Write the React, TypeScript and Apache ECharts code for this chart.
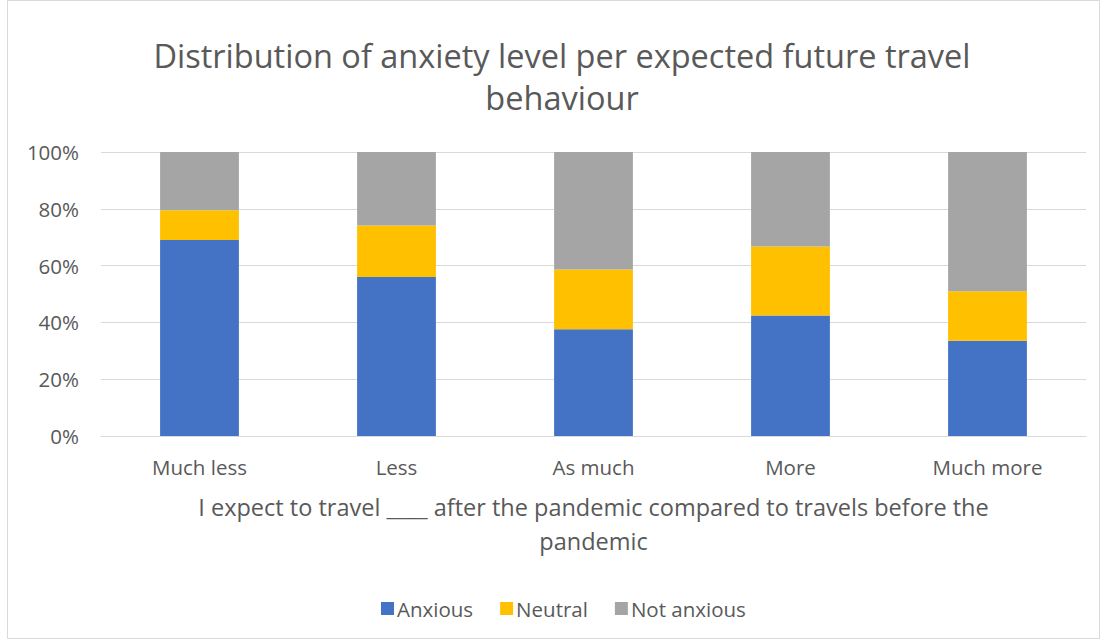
import React, { useEffect, useRef } from "react";
import * as echarts from "echarts";

const categories = ["Much less", "Less", "As much", "More", "Much more"];
const anxious = [69.0, 56.0, 37.6, 42.4, 33.5];
const neutral = [10.5, 18.1, 21.0, 24.3, 17.5];
const notAnxious = [20.5, 25.9, 41.4, 33.3, 49.0];
const seriesNames = ["Anxious", "Neutral", "Not anxious"];
const colors = ["#4472C4", "#FFC000", "#A5A5A5"];
const titleLines = ["Distribution of anxiety level per expected future travel", "behaviour"];
const xAxisTitle = "I expect to travel ____ after the pandemic compared to travels before the\npandemic";

const FONT = "'Open Sans', Lato, sans-serif";
const TXT = "#595959";

export default function App() {
  const ref = useRef<HTMLDivElement>(null);
  useEffect(() => {
    document.body.style.margin = "0";
    const chart = echarts.init(ref.current!, null, { renderer: "svg" });
    const values = [anxious, neutral, notAnxious];
    chart.setOption({
      animation: false,
      backgroundColor: "#ffffff",
      textStyle: { fontFamily: FONT },
      graphic: [
        {
          type: "rect",
          shape: { x: 7.5, y: 0.5, width: 1092, height: 638 },
          style: { fill: "none", stroke: "#d9d9d9", lineWidth: 1 },
          silent: true,
        },
        {
          type: "text",
          x: 562,
          y: 55,
          style: { text: titleLines[0], textAlign: "center", textVerticalAlign: "middle", fill: TXT, font: `32.5px ${FONT}` },
        },
        {
          type: "text",
          x: 562,
          y: 97,
          style: { text: titleLines[1], textAlign: "center", textVerticalAlign: "middle", fill: TXT, font: `32.5px ${FONT}` },
        },
      ],
      legend: {
        data: seriesNames,
        bottom: 20,
        left: 376,
        itemWidth: 13,
        itemHeight: 13,
        itemGap: 27,
        icon: "rect",
        textStyle: { color: TXT, fontSize: 20.5, fontFamily: FONT, padding: [0, 0, 0, -2] },
      },
      grid: { left: 101, right: 21, top: 152, bottom: 208 },
      xAxis: {
        type: "category",
        data: categories,
        axisLine: { lineStyle: { color: "#d9d9d9", width: 1 } },
        axisTick: { show: false },
        axisLabel: { color: TXT, fontSize: 20.5, fontFamily: FONT, margin: 20 },
        name: xAxisTitle,
        nameLocation: "middle",
        nameGap: 54,
        nameTextStyle: { color: TXT, fontSize: 23.5, fontFamily: FONT, lineHeight: 34 },
      },
      yAxis: {
        type: "value",
        min: 0,
        max: 100,
        interval: 20,
        axisLine: { show: false },
        axisTick: { show: false },
        axisLabel: { color: TXT, fontSize: 20.5, fontFamily: FONT, margin: 22, formatter: "{value}%" },
        splitLine: { lineStyle: { color: "#d9d9d9", width: 1 } },
      },
      series: seriesNames.map((name, i) => ({
        name,
        type: "bar",
        stack: "total",
        data: values[i],
        barWidth: "40%",
        itemStyle: { color: colors[i] },
      })),
    });
    return () => chart.dispose();
  }, []);
  return <div ref={ref} style={{ width: 1107, height: 644 }} />;
}
